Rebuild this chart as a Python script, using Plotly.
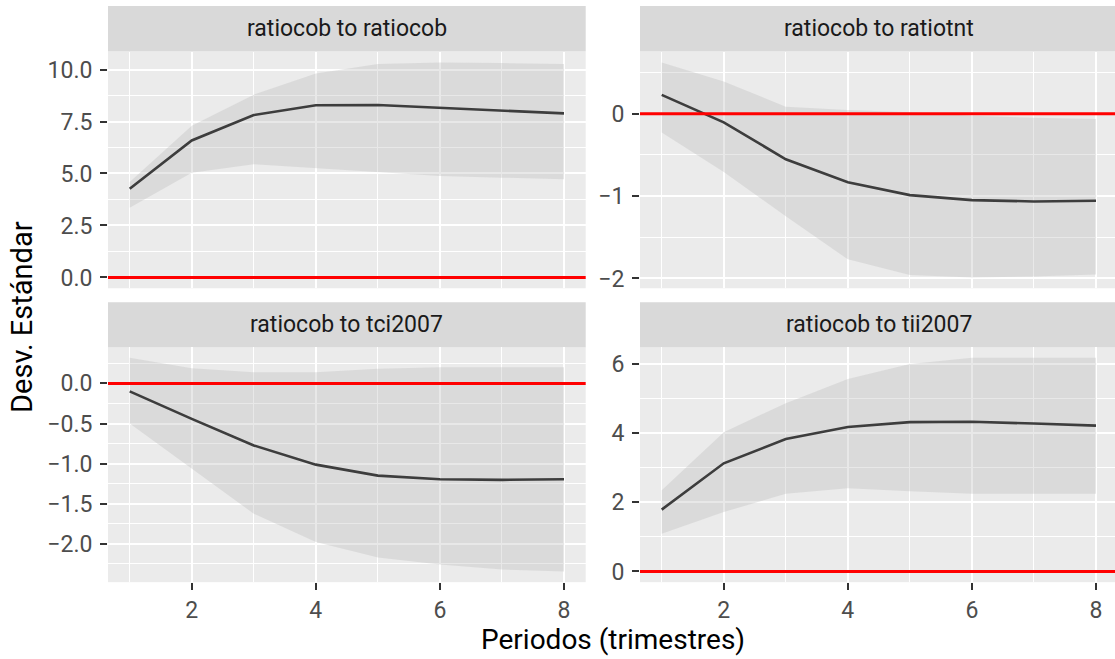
import plotly.graph_objects as go

# ---------------- data ----------------
periods = [1, 2, 3, 4, 5, 6, 7, 8]
panel_titles = ["ratiocob to ratiocob", "ratiocob to ratiotnt",
                "ratiocob to tci2007", "ratiocob to tii2007"]

irf_ratiocob = [4.27, 6.59, 7.81, 8.28, 8.29, 8.16, 8.00, 7.89]
low_ratiocob = [3.35, 5.04, 5.44, 5.25, 5.07, 4.88, 4.80, 4.72]
upp_ratiocob = [4.59, 7.29, 8.79, 9.81, 10.27, 10.34, 10.31, 10.26]

irf_ratiotnt = [0.228, -0.106, -0.553, -0.833, -0.988, -1.049, -1.065, -1.057]
low_ratiotnt = [-0.228, -0.707, -1.244, -1.768, -1.959, -1.988, -1.976, -1.951]
upp_ratiotnt = [0.622, 0.39, 0.085, 0.045, 0.016, -0.024, -0.049, -0.065]

irf_tci2007 = [-0.099, -0.442, -0.773, -1.012, -1.149, -1.194, -1.202, -1.194]
low_tci2007 = [-0.50, -1.058, -1.624, -1.975, -2.17, -2.256, -2.318, -2.343]
upp_tci2007 = [0.318, 0.19, 0.14, 0.14, 0.182, 0.20, 0.20, 0.20]

irf_tii2007 = [1.79, 3.13, 3.83, 4.18, 4.32, 4.33, 4.28, 4.22]
low_tii2007 = [1.09, 1.72, 2.25, 2.41, 2.32, 2.25, 2.25, 2.25]
upp_tii2007 = [2.35, 4.03, 4.87, 5.57, 6.00, 6.18, 6.18, 6.18]

x_ticks = [2, 4, 6, 8]
x_ticktext = ["2", "4", "6", "8"]
y_ticks_1 = [0, 2.5, 5, 7.5, 10]
y_text_1 = ["0.0", "2.5", "5.0", "7.5", "10.0"]
y_ticks_2 = [-2, -1, 0]
y_text_2 = ["\u22122", "\u22121", "0"]
y_ticks_3 = [-2.0, -1.5, -1.0, -0.5, 0.0]
y_text_3 = ["\u22122.0", "\u22121.5", "\u22121.0", "\u22120.5", "0.0"]
y_ticks_4 = [0, 2, 4, 6]
y_text_4 = ["0", "2", "4", "6"]

x_title = "Periodos (trimestres)"
y_title = "Desv. Estándar"

series = [
    (irf_ratiocob, low_ratiocob, upp_ratiocob, y_ticks_1, y_text_1),
    (irf_ratiotnt, low_ratiotnt, upp_ratiotnt, y_ticks_2, y_text_2),
    (irf_tci2007, low_tci2007, upp_tci2007, y_ticks_3, y_text_3),
    (irf_tii2007, low_tii2007, upp_tii2007, y_ticks_4, y_text_4),
]

# ---------------- layout geometry (pixels) ----------------
W, H = 1115, 659
COLS = [(108.0, 585.7), (640.0, 1115.0)]
ROWS = [(52.0, 290.0), (349.3, 585.7)]
STRIPS = [(6.0, 51.7), (304.0, 349.3)]
PANEL_W = COLS[0][1] - COLS[0][0]

FONT = "Roboto"
TICK_COL = "#4D4D4D"
PANEL_BG = "#EBEBEB"


def minors(ticks, lo, hi):
    step = ticks[1] - ticks[0]
    cands = [ticks[0] - step / 2] + [t + step / 2 for t in ticks]
    return [c for c in cands if lo <= c <= hi]


fig = go.Figure()
layout = dict(
    width=W, height=H,
    margin=dict(l=0, r=0, t=0, b=0),
    paper_bgcolor="white",
    plot_bgcolor=PANEL_BG,
    showlegend=False,
    hovermode=False,
    font=dict(family=FONT, size=23, color=TICK_COL),
)
shapes = []
annotations = []

x_lo = min(periods)
x_hi = max(periods)
x_pad = 0.05 * (x_hi - x_lo)
ppu = PANEL_W / ((x_hi + x_pad) - (x_lo - x_pad))

for i, (mid, low, upp, yt, ytt) in enumerate(series):
    k = i + 1
    r, c = divmod(i, 2)
    xs = "x" if k == 1 else f"x{k}"
    ys = "y" if k == 1 else f"y{k}"
    c0, c1 = COLS[c]
    r0, r1 = ROWS[r]

    xr0 = x_lo - x_pad
    xr1 = xr0 + (c1 - c0) / ppu

    ylo = min(min(low), 0.0)
    yhi = max(max(upp), 0.0)
    ypad = 0.05 * (yhi - ylo)
    yr = [ylo - ypad, yhi + ypad]

    fig.add_trace(go.Scatter(x=periods, y=low, mode="lines",
                             line=dict(width=0, color="rgba(0,0,0,0)"),
                             xaxis=xs, yaxis=ys, hoverinfo="skip"))
    fig.add_trace(go.Scatter(x=periods, y=upp, mode="lines",
                             line=dict(width=0, color="rgba(0,0,0,0)"),
                             fill="tonexty", fillcolor="rgba(185,185,185,0.33)",
                             xaxis=xs, yaxis=ys, hoverinfo="skip"))
    fig.add_trace(go.Scatter(x=periods, y=mid, mode="lines",
                             line=dict(width=2.6, color="#3D3D3D"),
                             xaxis=xs, yaxis=ys, hoverinfo="skip"))

    bottom = (r == 1)
    xname = "xaxis" if k == 1 else f"xaxis{k}"
    yname = "yaxis" if k == 1 else f"yaxis{k}"
    layout[xname] = dict(
        domain=[c0 / W, c1 / W], anchor=ys, range=[xr0, xr1],
        tickmode="array", tickvals=x_ticks, ticktext=x_ticktext,
        showticklabels=bottom, ticks="outside" if bottom else "",
        ticklen=7, tickwidth=2, tickcolor="#333333",
        tickfont=dict(family=FONT, size=23, color=TICK_COL),
        ticklabelstandoff=0,
        showgrid=True, gridcolor="#FFFFFF", gridwidth=2.4,
        zeroline=False, showline=False,
        minor=dict(tickvals=minors(x_ticks, xr0, xr1), showgrid=True,
                   gridcolor="#FFFFFF", gridwidth=1.2, ticks=""),
        fixedrange=True,
    )
    layout[yname] = dict(
        domain=[1 - r1 / H, 1 - r0 / H], anchor=xs, range=yr,
        tickmode="array", tickvals=yt, ticktext=ytt,
        ticks="outside", ticklen=7, tickwidth=2, tickcolor="#333333",
        tickfont=dict(family=FONT, size=23, color=TICK_COL),
        ticklabelstandoff=3,
        showgrid=True, gridcolor="#FFFFFF", gridwidth=2.4,
        zeroline=False, showline=False,
        minor=dict(tickvals=minors(yt, yr[0], yr[1]), showgrid=True,
                   gridcolor="#FFFFFF", gridwidth=1.2, ticks=""),
        fixedrange=True,
    )

    # red reference line at zero
    shapes.append(dict(type="line", xref=f"{xs} domain", yref=ys,
                       x0=0, x1=1, y0=0, y1=0,
                       line=dict(color="#FF0000", width=3), layer="above"))

    # strip
    s0, s1 = STRIPS[r]
    shapes.append(dict(type="rect", xref="paper", yref="paper",
                       x0=c0 / W, x1=c1 / W, y0=1 - s1 / H, y1=1 - s0 / H,
                       fillcolor="#D9D9D9", line=dict(width=0), layer="below"))
    cx = (c0 + c0 + PANEL_W) / 2
    annotations.append(dict(text=panel_titles[i], xref="paper", yref="paper",
                            x=cx / W, y=1 - (s0 + s1) / 2 / H,
                            xanchor="center", yanchor="middle", showarrow=False,
                            font=dict(family=FONT, size=23, color="#1A1A1A")))

# axis titles
full_l = COLS[0][0]
full_r = COLS[1][0] + PANEL_W
annotations.append(dict(text=x_title, xref="paper", yref="paper",
                        x=(full_l + full_r) / 2 / W, y=1 - 643 / H,
                        xanchor="center", yanchor="middle", showarrow=False,
                        font=dict(family=FONT, size=28, color="#000000")))
annotations.append(dict(text=y_title, xref="paper", yref="paper",
                        x=22 / W, y=1 - (ROWS[0][0] + ROWS[1][1]) / 2 / H,
                        xanchor="center", yanchor="middle", showarrow=False,
                        textangle=-90,
                        font=dict(family=FONT, size=29, color="#000000")))

layout["shapes"] = shapes
layout["annotations"] = annotations
fig.update_layout(**layout)

fig.write_html("out.html",
               config={"displayModeBar": False},
               post_script="document.body.style.margin='0px';"
                           "document.body.style.overflow='hidden';")
